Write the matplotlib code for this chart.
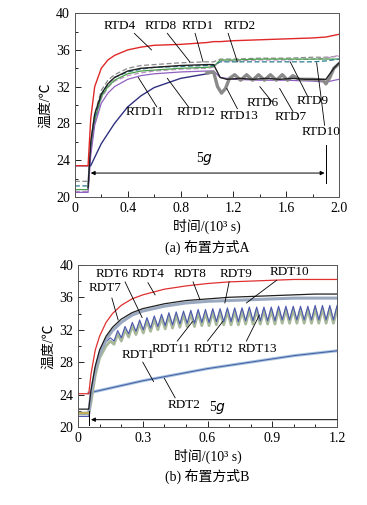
import numpy as np
import matplotlib
matplotlib.use('Agg')
import matplotlib.pyplot as plt
from matplotlib.ticker import MultipleLocator

plt.rcParams['font.family'] = ['Liberation Serif', 'Noto Sans CJK SC']
plt.rcParams['font.size'] = 10

# ---------------- panel A data (time in 10^3 s, temperature in C) ----------------
t_a = [0, 0.099, 0.1, 0.12, 0.15, 0.2, 0.25, 0.3, 0.4, 0.5, 0.6, 0.8, 1.0, 1.05,
       1.1, 1.2, 1.4, 1.6, 1.8, 1.9, 2.0]
rtd4 = [23.4, 23.4, 23.4, 28.5, 32.0, 34.0, 34.9, 35.4, 36.0, 36.3, 36.5, 36.6, 36.8, 36.9,
        36.9, 37.0, 37.1, 37.2, 37.3, 37.4, 37.7]
rtd_dash_top = [21.7, 21.7, 21.7, 26.0, 29.0, 31.6, 32.7, 33.3, 34.0, 34.3, 34.4, 34.6, 34.7, 34.7,
                35.0, 35.0, 35.1, 35.1, 35.2, 35.2, 35.3]
rtd_green = [20.8, 20.8, 20.8, 25.2, 28.3, 30.9, 32.0, 32.7, 33.4, 33.7, 33.8, 34.0, 34.1, 34.2,
             34.9, 34.9, 35.0, 35.0, 35.0, 35.0, 35.0]
rtd_teal = [21.2, 21.2, 21.2, 25.6, 28.6, 31.1, 32.3, 33.0, 33.6, 33.9, 34.1, 34.2, 34.3, 34.3,
            34.7, 34.7, 34.7, 34.7, 34.7, 34.8, 35.0]
rtd_pink = [20.6, 20.6, 20.6, 25.0, 28.1, 30.7, 31.9, 32.6, 33.2, 33.5, 33.7, 33.9, 34.0, 34.1,
            34.8, 34.8, 34.9, 34.9, 35.0, 35.1, 35.4]
rtd11 = [20.5, 20.5, 20.5, 24.5, 27.8, 30.2, 31.3, 32.0, 32.8, 33.2, 33.4, 33.6, 33.7, 33.7,
         33.0, 32.8, 32.7, 32.7, 32.6, 32.5, 32.8]

t_navy = [0, 0.12, 0.2, 0.3, 0.4, 0.5, 0.6, 0.8, 1.0, 1.05]
rtd_navy = [23.4, 23.4, 25.8, 28.0, 29.8, 31.0, 31.9, 32.9, 33.4, 33.5]

# black curve (RTD1 group) before and after the switch at 1.05
t_blk = [0.1, 0.12, 0.15, 0.2, 0.25, 0.3, 0.4, 0.5, 0.6, 0.8, 1.0, 1.05,
         1.1, 1.15, 1.25, 1.35, 1.45, 1.55, 1.65, 1.75, 1.85, 1.9, 1.93, 1.96, 2.0]
rtd_blk = [21.0, 26.0, 29.0, 31.2, 32.3, 33.0, 33.7, 34.0, 34.1, 34.3, 34.4, 34.4,
           33.0, 32.8, 32.9, 32.8, 32.9, 32.8, 32.9, 32.8, 32.8, 32.8, 33.4, 34.0, 34.6]

# gray thick curve (RTD6/7/13) oscillating after 1.05
t_gray = [1.0, 1.05, 1.08, 1.11, 1.14, 1.17, 1.21, 1.255, 1.30, 1.345, 1.39, 1.435,
          1.48, 1.525, 1.57, 1.61, 1.65, 1.70, 1.80, 1.88, 1.9, 1.93, 1.96, 2.0]
rtd_gray = [33.5, 33.6, 32.0, 31.3, 31.8, 32.9, 33.3, 32.7, 33.3, 32.7, 33.3, 32.7,
            33.3, 32.7, 33.3, 32.7, 33.2, 32.8, 32.8, 32.7, 32.3, 33.0, 34.0, 34.5]

# ---------------- panel B data ----------------
t_b = [0, 0.049, 0.05, 0.06, 0.08, 0.1, 0.13, 0.16, 0.2, 0.25, 0.3, 0.4, 0.5, 0.6,
       0.7, 0.8, 0.9, 1.0, 1.1, 1.2]
rdt4 = [24.1, 24.1, 24.1, 26.5, 29.5, 31.2, 32.9, 34.0, 35.0, 35.8, 36.3, 37.0, 37.4, 37.7,
        37.9, 38.0, 38.1, 38.2, 38.2, 38.2]
rdt_blk = [22.2, 22.2, 22.2, 24.5, 27.5, 29.5, 31.2, 32.3, 33.3, 34.1, 34.6, 35.2, 35.6, 35.8,
           36.0, 36.1, 36.2, 36.3, 36.4, 36.4]
rdt_gb = [21.7, 21.7, 21.7, 24.0, 27.0, 29.0, 30.8, 31.9, 32.9, 33.8, 34.3, 34.9, 35.3, 35.5,
          35.6, 35.7, 35.8, 35.9, 35.9, 35.9]

t_b12 = [0.05, 0.1, 0.2, 0.3, 0.4, 0.5, 0.6, 0.7, 0.8, 0.9, 1.0, 1.1, 1.2]
rdt12 = [24.2, 24.5, 25.1, 25.7, 26.2, 26.7, 27.2, 27.6, 28.0, 28.4, 28.8, 29.1, 29.4]

# oscillating group (RDT11-13): rise, then alternating peaks / troughs
t_rise_b = [0, 0.049, 0.05, 0.06, 0.08, 0.1, 0.13]
rdt_blue_rise = [21.3, 21.3, 21.3, 23.5, 27.0, 29.0, 30.5]
rdt_green_rise = [21.6, 21.6, 21.6, 23.0, 26.4, 28.5, 30.0]
blue_peaks = [31.0, 31.9, 32.4, 32.9, 33.2, 33.5, 33.7, 33.9, 34.1, 34.2, 34.3, 34.4, 34.5,
              34.5, 34.6, 34.6, 34.7, 34.7, 34.7, 34.8, 34.8, 34.8, 34.8, 34.9, 34.9, 34.9,
              34.9, 34.9, 35.0, 35.0, 35.0, 35.0]
blue_troughs = [30.6, 31.0, 31.5, 31.8, 32.0, 32.2, 32.4, 32.5, 32.6, 32.7, 32.8, 32.8, 32.9,
                32.9, 33.0, 33.0, 33.0, 33.0, 33.1, 33.1, 33.1, 33.1, 33.1, 33.2, 33.2, 33.2,
                33.2, 33.2, 33.2, 33.2, 33.2]
green_peaks = [30.6, 31.5, 32.0, 32.5, 32.8, 33.1, 33.3, 33.5, 33.7, 33.8, 33.9, 34.0, 34.1,
               34.1, 34.2, 34.2, 34.3, 34.3, 34.3, 34.4, 34.4, 34.4, 34.4, 34.5, 34.5, 34.5,
               34.5, 34.5, 34.6, 34.6, 34.6, 34.6]
green_troughs = [30.2, 30.6, 31.1, 31.4, 31.6, 31.8, 32.0, 32.1, 32.2, 32.3, 32.4, 32.4, 32.5,
                 32.5, 32.6, 32.6, 32.6, 32.6, 32.7, 32.7, 32.7, 32.7, 32.7, 32.8, 32.8, 32.8,
                 32.8, 32.8, 32.8, 32.8, 32.8]


def interleave(peaks, troughs):
    out = []
    for i, p in enumerate(peaks):
        out.append(p)
        if i < len(troughs):
            out.append(troughs[i])
    return out


t_osc = np.linspace(0.15, 1.2, len(blue_peaks) + len(blue_troughs))
blue_osc = interleave(blue_peaks, blue_troughs)
green_osc = interleave(green_peaks, green_troughs)


def fmt_tick(v, pos):
    return '0' if v == 0 else f'{v:.1f}'


fig = plt.figure(figsize=(3.67, 5.05), dpi=100)
ax1 = fig.add_axes([0.204, 0.610, 0.720, 0.364])
ax2 = fig.add_axes([0.2125, 0.1545, 0.706, 0.321])

# ---- panel A ----
ax1.plot(t_a, rtd_dash_top, color='#8a8a8a', lw=0.9, ls=(0, (4, 2)))
ax1.plot(t_a, rtd_pink, color='#c090c8', lw=0.9, ls=(0, (4, 2)))
ax1.plot(t_a, rtd_green, color='#4aa04a', lw=0.9)
ax1.plot(t_a, rtd_teal, color='#2a7a90', lw=0.9, ls=(0, (4, 2)))
ax1.plot(t_a, rtd11, color='#9060c0', lw=0.9)
ax1.plot(t_navy, rtd_navy, color='#303080', lw=1.0)
ax1.plot(t_gray, rtd_gray, color='#8a8a8a', lw=2.4)
ax1.plot(t_blk, rtd_blk, color='#202020', lw=1.0)
ax1.plot(t_a, rtd4, color='#e02828', lw=1.0)

ax1.set_xlim(0, 2.0)
ax1.set_ylim(20, 40)
ax1.xaxis.set_major_locator(MultipleLocator(0.4))
ax1.xaxis.set_minor_locator(MultipleLocator(0.2))
ax1.yaxis.set_major_locator(MultipleLocator(4))
ax1.yaxis.set_minor_locator(MultipleLocator(2))
ax1.xaxis.set_major_formatter(plt.FuncFormatter(fmt_tick))
ax1.set_xlabel('时间/(10³ s)', fontsize=10, labelpad=3)
ax1.set_ylabel('温度/℃', fontsize=10, labelpad=3)
ax1.text(0.5, -0.235, '(a) 布置方式A', transform=ax1.transAxes, ha='center', va='top', fontsize=10)

labels_a = [
    ('RTD4', 0.34, 38.6, (0.45, 37.8), (0.58, 36.0)),
    ('RTD8', 0.65, 38.6, (0.70, 37.8), (0.87, 34.7)),
    ('RTD1', 0.93, 38.6, (0.91, 37.8), (0.97, 34.7)),
    ('RTD2', 1.25, 38.6, (1.16, 37.8), (1.23, 34.7)),
    ('RTD11', 0.53, 29.2, (0.62, 29.8), (0.48, 33.0)),
    ('RTD12', 0.92, 29.2, (0.86, 29.8), (0.70, 32.9)),
    ('RTD13', 1.24, 28.8, (1.23, 29.6), (1.15, 31.8)),
    ('RTD6', 1.42, 30.2, (1.49, 30.4), (1.40, 32.0)),
    ('RTD7', 1.63, 28.7, (1.65, 29.3), (1.55, 31.8)),
    ('RTD9', 1.80, 30.4, (1.76, 31.0), (1.63, 34.7)),
    ('RTD10', 1.86, 27.1, (1.89, 27.8), (1.83, 34.6)),
]
for name, tx, ty, p0, p1 in labels_a:
    ax1.text(tx, ty, name, ha='center', va='center', fontsize=9.5)
    ax1.plot([p0[0], p1[0]], [p0[1], p1[1]], color='black', lw=0.6)

ax1.annotate('', xy=(0.12, 22.6), xytext=(1.89, 22.6),
             arrowprops=dict(arrowstyle='<|-|>', color='black', lw=0.7,
                             mutation_scale=6, shrinkA=0, shrinkB=0))
ax1.plot([1.9, 1.9], [21.5, 25.7], color='black', lw=0.7)
ax1.text(0.985, 23.3, '5$g$', ha='center', va='bottom', fontsize=10)

# ---- panel B ----
ax2.plot(t_b12, rdt12, color='#a8c4e0', lw=2.2)
ax2.plot(t_b12, rdt12, color='#4a64a8', lw=0.8)
ax2.plot(t_rise_b + list(t_osc), rdt_green_rise + green_osc, color='#a8b89a', lw=2.0)
ax2.plot(t_rise_b + list(t_osc), rdt_blue_rise + blue_osc, color='#4a58b0', lw=0.8)
ax2.plot(t_b, rdt_gb, color='#9aa8c0', lw=2.2)
ax2.plot(t_b, rdt_blk, color='#202020', lw=0.9)
ax2.plot(t_b, rdt4, color='#e03030', lw=0.9)
ax2.plot([0, 0.05], [21.7, 21.7], color='#c8b040', lw=1.2)

ax2.set_xlim(0, 1.2)
ax2.set_ylim(20, 40)
ax2.xaxis.set_major_locator(MultipleLocator(0.3))
ax2.xaxis.set_minor_locator(MultipleLocator(0.1))
ax2.yaxis.set_major_locator(MultipleLocator(4))
ax2.yaxis.set_minor_locator(MultipleLocator(2))
ax2.xaxis.set_major_formatter(plt.FuncFormatter(fmt_tick))
ax2.set_xlabel('时间/(10³ s)', fontsize=10, labelpad=3)
ax2.set_ylabel('温度/℃', fontsize=10, labelpad=3)
ax2.text(0.5, -0.26, '(b) 布置方式B', transform=ax2.transAxes, ha='center', va='top', fontsize=10)

labels_b = [
    ('RDT6', 0.157, 38.9, (0.218, 37.9), (0.297, 33.5)),
    ('RDT4', 0.324, 38.9, (0.324, 37.8), (0.357, 36.3)),
    ('RDT8', 0.52, 38.9, (0.533, 37.9), (0.565, 35.7)),
    ('RDT9', 0.73, 38.9, (0.70, 37.9), (0.68, 35.3)),
    ('RDT10', 0.98, 39.1, (0.92, 38.1), (0.78, 35.3)),
    ('RDT7', 0.125, 37.2, (0.157, 35.9), (0.186, 33.2)),
    ('RDT11', 0.43, 29.6, (0.46, 30.6), (0.53, 33.0)),
    ('RDT12', 0.625, 29.6, (0.60, 30.6), (0.67, 33.0)),
    ('RDT13', 0.83, 29.6, (0.78, 30.6), (0.84, 33.8)),
    ('RDT1', 0.28, 28.9, (0.30, 28.0), (0.35, 25.6)),
    ('RDT2', 0.49, 22.7, (0.45, 23.6), (0.40, 26.0)),
]
for name, tx, ty, p0, p1 in labels_b:
    ax2.text(tx, ty, name, ha='center', va='center', fontsize=9.5)
    ax2.plot([p0[0], p1[0]], [p0[1], p1[1]], color='black', lw=0.6)

ax2.annotate('', xy=(0.06, 20.9), xytext=(1.2, 20.9),
             arrowprops=dict(arrowstyle='-|>', color='black', lw=0.7,
                             mutation_scale=6, shrinkA=0, shrinkB=0))
ax2.plot([0.05, 0.05], [20.3, 22.0], color='black', lw=0.7)
ax2.text(0.645, 21.3, '5$g$', ha='center', va='bottom', fontsize=10)

for ax in (ax1, ax2):
    ax.tick_params(which='both', direction='in', top=False, right=False, labelsize=10)
    ax.tick_params(which='major', length=4, width=0.6)
    ax.tick_params(which='minor', length=2.5, width=0.6)
    for s in ax.spines.values():
        s.set_linewidth(0.7)
        s.set_color('#555555')

fig.savefig('out.png', dpi=100)
